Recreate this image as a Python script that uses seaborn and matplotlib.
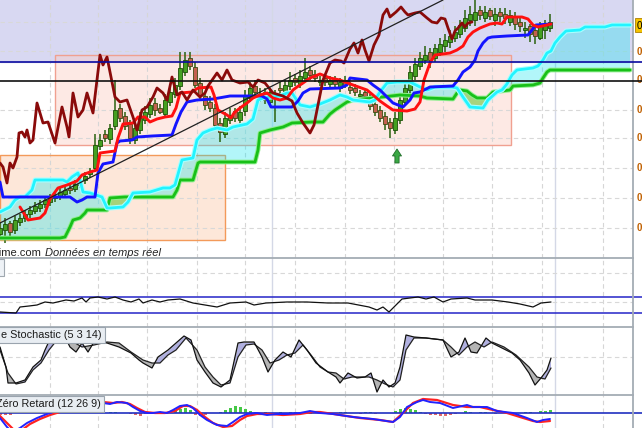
import numpy as np
import matplotlib
matplotlib.use("Agg")
import matplotlib.pyplot as plt
from matplotlib.patches import Rectangle, Polygon
import seaborn as sns

sns.set_theme(style="white")
plt.rcParams['font.family'] = ['Liberation Sans', 'DejaVu Sans']

# ---------------- price panel data (bar index, price in chart units) ----------------
open_ = [24, 28, 35, 28, 36, 40, 44, 47, 50, 54,
         56, 60, 61, 64, 70, 69, 73, 78, 84, 90,
         112, 124, 119, 132, 150, 142, 134, 118, 128, 138,
         144, 155, 150, 144, 156, 164, 172, 186, 200, 191,
         175, 162, 156, 150, 135, 124, 138, 147, 138, 147,
         160, 172, 162, 166, 156, 161, 170, 166, 172, 180,
         174, 180, 188, 184, 176, 180, 174, 178, 170, 178,
         171, 170, 162, 166, 160, 154, 148, 142, 136, 128,
         138, 156, 168, 182, 192, 198, 206, 200, 206, 212,
         216, 220, 224, 230, 238, 238, 248, 240, 248, 238,
         246, 244, 236, 242, 236, 228, 232, 228, 220, 228, 230]
close = [30, 34, 26, 38, 40, 44, 48, 52, 54, 58,
         60, 62, 66, 68, 68, 74, 78, 82, 86, 113,
         118, 120, 130, 148, 140, 132, 120, 130, 140, 146,
         153, 148, 146, 158, 166, 173, 190, 198, 192, 173,
         163, 153, 150, 133, 126, 140, 143, 140, 146, 163,
         170, 166, 164, 158, 166, 165, 168, 173, 178, 176,
         182, 186, 183, 180, 178, 176, 178, 174, 176, 173,
         168, 166, 164, 162, 152, 146, 140, 134, 130, 140,
         158, 170, 186, 194, 200, 203, 198, 210, 214, 218,
         222, 226, 233, 240, 244, 246, 243, 246, 242, 244,
         242, 240, 243, 234, 232, 230, 224, 222, 232, 234, 236]
high = [36, 40, 37, 42, 44, 48, 52, 56, 58, 62,
        64, 66, 70, 72, 74, 78, 82, 86, 90, 124,
        124, 128, 134, 178, 154, 146, 138, 136, 146, 152,
        160, 160, 154, 164, 172, 180, 206, 206, 206, 196,
        180, 166, 162, 154, 140, 146, 150, 150, 152, 168,
        176, 178, 170, 170, 170, 168, 176, 178, 186, 184,
        188, 200, 192, 188, 182, 184, 182, 182, 180, 182,
        176, 174, 168, 170, 164, 158, 152, 146, 140, 146,
        164, 176, 192, 200, 206, 212, 210, 214, 220, 224,
        228, 232, 238, 248, 252, 258, 252, 252, 250, 250,
        250, 250, 248, 246, 240, 236, 234, 232, 236, 238, 244]
low = [20, 15, 22, 24, 32, 36, 40, 44, 46, 50,
       52, 56, 58, 60, 64, 66, 70, 74, 80, 86,
       108, 116, 114, 128, 136, 128, 114, 114, 124, 134,
       140, 142, 144, 140, 152, 160, 168, 182, 188, 170,
       158, 148, 146, 128, 116, 120, 134, 136, 134, 142,
       156, 160, 156, 154, 152, 136, 164, 162, 168, 172,
       170, 176, 178, 176, 172, 172, 170, 170, 166, 170,
       164, 162, 158, 156, 148, 142, 136, 128, 120, 124,
       134, 152, 164, 178, 188, 194, 190, 196, 202, 206,
       210, 216, 220, 226, 232, 232, 238, 236, 238, 232,
       236, 234, 232, 228, 226, 220, 216, 214, 218, 219, 226]

tenkan_x = [4.0, 5.6, 8.0, 9.0, 10.0, 11.6, 13.4, 15.4, 16.4, 18.0, 19.4, 20.0, 23.0, 23.6,
            24.6, 26.6, 27.6, 29.0, 30.0, 31.4, 33.0, 34.4, 35.2, 36.0, 38.4, 39.6, 42.2,
            42.8, 43.6, 45.4, 46.2, 46.8, 48.0, 49.4, 50.6, 52.0, 53.4, 54.6, 56.0, 57.4,
            58.6, 59.4, 60.6, 62.0, 64.0, 66.0, 68.0, 70.6, 73.4, 74.6, 76.0, 77.4, 78.6,
            81.4, 83.0, 84.0, 84.8, 86.0, 87.0, 90.0, 91.4, 92.6, 93.6, 94.6, 96.0, 98.0,
            99.4, 100.4, 101.4, 104.4, 105.6, 106.6, 107.6, 109.4, 110.2]
tenkan_y = [51, 38, 40, 45, 59, 70, 73, 77, 83, 86, 88, 105, 107, 120,
            134, 135, 141, 141, 136, 139, 141, 142, 150, 165, 166, 170, 171,
            163, 148, 143, 140, 145, 150, 155, 160, 163, 165, 160, 158, 160,
            168, 171, 175, 180, 184, 180, 178, 173, 168, 163, 157, 152, 148,
            147, 149, 156, 178, 195, 203, 205, 208, 212, 221, 226, 230, 234,
            235, 234, 241, 241, 239, 233, 231, 233, 234]

kijun_x = [0.0, 0.6, 14.0, 15.4, 16.4, 17.4, 19.0, 19.6, 20.6, 22.6, 23.4, 24.0, 26.4,
           27.4, 30.4, 34.4, 35.2, 36.2, 37.4, 39.4, 42.6, 46.0, 52.4, 53.4, 54.2, 58.4,
           59.6, 60.6, 62.0, 68.0, 69.4, 70.0, 73.4, 74.6, 76.0, 77.4, 78.6, 80.6, 82.0,
           82.8, 84.0, 86.0, 90.6, 91.6, 92.6, 94.0, 95.0, 95.6, 96.6, 97.6, 98.4, 101.4,
           105.6, 106.4, 107.2, 110.2]
kijun_y = [76, 61, 61, 56, 58, 61, 61, 85, 94, 96, 115, 117, 118,
           121, 122, 123, 134, 146, 156, 158, 159, 162, 162, 159, 151, 151,
           157, 165, 169, 170, 173, 180, 178, 173, 168, 161, 155, 151, 158,
           165, 166, 171, 172, 178, 186, 191, 198, 207, 215, 220, 221, 222,
           223, 228, 233, 234]

chikou_x = [0.0, 0.6, 1.4, 2.0, 2.6, 3.4, 3.8, 4.4, 5.0, 5.4, 6.0, 6.6, 7.4, 8.0, 8.6,
            9.6, 11.0, 12.4, 13.4, 13.8, 14.6, 15.6, 16.6, 17.4, 18.6, 20.0, 20.6, 21.4,
            23.0, 24.0, 25.4, 26.6, 27.4, 28.4, 29.4, 30.6, 31.4, 32.6, 33.4, 34.4, 35.4,
            36.4, 37.4, 38.6, 40.0, 41.0, 41.6, 43.4, 44.4, 45.4, 46.4, 48.0, 49.6, 50.6,
            51.6, 53.0, 54.6, 56.6, 58.4, 59.4, 60.6, 62.0, 62.8, 63.4, 64.0, 64.6, 66.0,
            67.0, 68.2, 68.8, 70.0, 70.8, 71.6, 72.4, 73.0, 73.8, 74.8, 75.8, 76.6, 77.4,
            78.0, 79.2, 80.2, 81.0, 81.6, 83.0, 84.0, 85.4, 86.4, 87.4, 88.2, 89.0, 89.6,
            90.4, 91.0, 91.6, 92.4, 93.0, 93.6, 94.4]
chikou_y = [95, 91, 75, 95, 90, 101, 125, 126, 121, 128, 115, 118, 155, 145, 135,
            136, 115, 151, 131, 121, 165, 141, 148, 165, 145, 203, 193, 201,
            161, 156, 158, 141, 128, 148, 151, 161, 170, 165, 158, 181, 163,
            166, 158, 168, 161, 165, 172, 185, 178, 188, 178, 175, 176, 171,
            178, 175, 165, 162, 157, 145, 135, 125, 133, 148, 163, 178, 195,
            198, 197, 195, 209, 215, 205, 218, 208, 197, 213, 223, 243, 249,
            241, 246, 251, 246, 243, 245, 246, 240, 236, 235, 240, 239, 230,
            219, 227, 230, 235, 231, 235, 236]

span_a_x = [0.0, 2.0, 3.0, 4.0, 5.0, 6.4, 7.0, 12.6, 13.4, 14.4, 15.6, 16.0, 16.6, 18.0,
            20.4, 21.4, 22.0, 24.6, 25.6, 26.6, 30.0, 32.6, 34.0, 35.0, 36.4, 38.6, 39.4,
            40.6, 42.0, 43.4, 45.4, 46.6, 49.4, 50.6, 51.6, 52.6, 56.0, 57.4, 58.4, 59.2,
            60.0, 62.0, 64.0, 66.0, 68.0, 69.4, 70.6, 74.0, 75.0, 76.0, 77.4, 79.4, 82.0,
            84.0, 85.4, 87.0, 90.4, 91.4, 92.6, 94.0, 96.6, 97.6, 99.4, 100.4, 101.4, 102.4,
            103.4, 106.6, 107.6, 108.6, 109.4, 110.2, 111.0, 112.0, 113.2, 116.0, 117.0,
            121.0, 122.4, 126.0]
span_a_y = [46, 51, 58, 61, 61, 68, 78, 78, 76, 81, 85, 78, 66, 65,
            61, 50, 50, 51, 56, 65, 66, 70, 70, 73, 98, 100, 118,
            125, 128, 130, 128, 131, 134, 139, 158, 160, 162, 165, 165, 159,
            153, 151, 154, 158, 163, 161, 158, 156, 158, 166, 175, 176, 176,
            171, 168, 171, 171, 170, 161, 151, 150, 158, 166, 168, 174, 183,
            188, 190, 192, 198, 205, 207, 215, 221, 227, 228, 231,
            231, 233, 233]

span_b_x = [0.0, 12.0, 13.0, 14.0, 14.6, 16.0, 17.0, 17.4, 21.4, 22.0, 25.0, 34.6, 35.4,
            36.0, 38.6, 39.6, 40.0, 51.0, 51.6, 52.0, 54.0, 56.6, 58.4, 62.4, 64.6, 66.0,
            67.0, 69.4, 70.6, 74.6, 80.0, 84.0, 85.4, 90.6, 91.4, 92.0, 93.4, 94.4, 95.4,
            97.4, 98.0, 98.6, 102.0, 102.6, 106.6, 108.0, 108.6, 109.4, 110.0, 126.0]
span_b_y = [20, 20, 21, 31, 38, 40, 45, 48, 48, 60, 61, 61, 68,
            78, 78, 95, 96, 96, 108, 125, 128, 131, 135, 136, 136, 144,
            148, 156, 158, 160, 163, 162, 160, 159, 165, 168, 167, 163, 160,
            160, 163, 166, 168, 172, 173, 175, 180, 186, 188, 188]

trend_x = [0.0, 88.6]
trend_y = [35, 258]
resistance = 196          # blue level, top of the shaded zone
support = 177             # black level
zone_x0 = [11.0, 0.0]     # consolidation boxes
zone_x1 = [102.2, 45.0]
zone_lo = [113, 18]
zone_hi = [203, 103]
signal_day = [79.4]
signal_level = [95]
last_price = 233
last_label = "0,65"
price_labels = ["0,64", "0,62", "0,60", "0,58", "0,56", "0,54", "0,52"]
price_levels = [207, 178, 148, 120, 90, 60, 30]
grid_levels = [236, 207, 148, 120, 90, 60, 30]

# ---------------- indicator panels ----------------
osc_x = [0.0, 3.2, 4.0, 5.8, 7.4, 9.0, 10.6, 13.2, 14.8, 16.4, 17.2, 18.0, 19.6, 21.4,
         23.0, 24.6, 26.2, 27.8, 28.6, 30.4, 32.0, 33.6, 36.0, 38.6, 41.0, 43.4, 46.0,
         49.2, 50.8, 53.2, 57.4, 61.4, 65.6, 69.6, 73.8, 75.4, 76.6, 77.8, 78.6, 80.4,
         83.6, 85.2, 86.8, 88.6, 90.2, 93.4, 95.0, 98.4, 101.6, 104.0, 106.6, 108.2, 110.2]
osc_y = [15, 14, 20, 21, 22, 25, 24, 27, 26, 29, 25, 29, 30, 28,
         30, 27, 25, 28, 24, 27, 25, 27, 28, 24, 22, 20, 24,
         25, 22, 24, 25, 25, 24, 24, 20, 17, 20, 15, 19, 28,
         30, 28, 30, 25, 28, 29, 27, 27, 25, 23, 20, 24, 25]
osc_upper = 30
osc_lower = 14

stoch_k_x = [0.0, 1.2, 1.6, 3.2, 5.0, 6.6, 8.2, 9.0, 10.2, 11.4, 12.8, 14.0, 15.2, 16.4,
             17.6, 18.8, 21.4, 23.8, 26.2, 27.8, 28.6, 30.4, 31.6, 33.6, 35.2, 36.8, 38.2,
             39.4, 41.0, 42.6, 44.2, 46.0, 47.6, 48.8, 50.8, 52.4, 53.6, 55.0, 56.6, 58.2,
             59.8, 61.4, 63.2, 65.6, 67.2, 68.0, 69.6, 71.4, 73.0, 74.2, 75.4, 76.6, 77.8,
             79.0, 80.0, 81.2, 82.8, 85.2, 88.6, 90.2, 91.8, 93.0, 94.2, 95.4, 97.2, 98.4,
             100.0, 102.4, 104.0, 105.8, 107.0, 108.2, 109.4, 110.2]
stoch_k_y = [48, 28, 12, 12, 15, 28, 35, 45, 58, 65, 60, 48, 43, 52,
             43, 53, 52, 48, 42, 35, 32, 27, 38, 45, 52, 59, 55,
             35, 23, 12, 8, 15, 52, 53, 53, 38, 23, 35, 43, 38,
             55, 45, 32, 23, 18, 12, 22, 17, 18, 22, 3, 15, 8,
             12, 28, 60, 58, 57, 55, 38, 43, 57, 43, 42, 57, 52,
             48, 42, 35, 22, 10, 17, 25, 37]
stoch_d_x = [0.0, 1.6, 3.2, 5.0, 6.6, 8.2, 9.8, 11.4, 14.0, 16.4, 18.8, 21.4, 23.8, 26.2,
             28.6, 30.4, 32.0, 33.6, 35.2, 37.2, 39.4, 41.0, 42.6, 44.2, 46.0, 47.6, 49.2,
             50.8, 52.4, 54.0, 55.8, 57.4, 59.0, 60.6, 62.2, 64.0, 65.6, 67.2, 68.8, 70.4,
             72.2, 73.8, 75.4, 77.0, 78.6, 80.0, 81.2, 82.8, 85.2, 88.6, 90.2, 91.8, 93.4,
             95.0, 96.8, 98.4, 100.8, 103.2, 105.8, 107.4, 109.0, 110.2]
stoch_d_y = [45, 22, 11, 13, 25, 32, 45, 55, 55, 48, 50, 53, 52, 43,
             35, 32, 32, 40, 45, 57, 45, 28, 18, 10, 12, 38, 50,
             51, 45, 32, 35, 40, 42, 50, 40, 28, 23, 22, 16, 18,
             18, 18, 15, 11, 8, 15, 45, 57, 57, 55, 48, 40, 48,
             53, 48, 53, 48, 40, 28, 18, 16, 27]

macd_x = [0.0, 1.4, 2.4, 4.0, 5.4, 7.4, 9.4, 12.0, 16.0, 20.6, 22.0, 23.4, 25.4, 26.6,
          28.0, 29.4, 30.6, 32.0, 33.4, 34.6, 36.0, 37.4, 38.6, 40.0, 41.4, 43.4, 45.4,
          46.6, 48.0, 49.4, 51.4, 53.4, 55.4, 57.4, 60.0, 62.0, 64.0, 66.6, 70.6, 74.6,
          78.6, 80.0, 81.4, 83.4, 84.6, 86.0, 88.0, 90.6, 93.4, 94.6, 97.4, 99.4, 102.6,
          105.4, 107.4, 108.6, 110.0]
macd_y = [-5, -14, -19, -15, -10, -5, -1, 3, 8, 10, 9, 11, 10, 6,
          2, 0, 0, 1, 0, 3, 7, 8, 5, -2, -7, -12, -13,
          -9, -4, -1, 0, -2, -1, -1, 0, 2, 0, -1, -4, -6,
          -9, -4, 6, 11, 13, 11, 10, 5, 8, 6, 6, 2, 0,
          -5, -9, -7, -6]
signal_x = [0.0, 1.6, 2.8, 4.4, 6.0, 8.0, 10.0, 16.0, 20.6, 22.6, 24.4, 26.0, 27.4, 29.0,
            31.0, 33.0, 35.0, 36.6, 38.0, 39.4, 41.0, 42.6, 44.6, 46.4, 48.0, 49.4, 51.4,
            54.0, 56.6, 60.0, 62.4, 64.0, 68.0, 72.0, 76.0, 78.6, 80.6, 82.6, 84.6, 87.4,
            90.6, 93.4, 96.0, 98.6, 101.4, 104.0, 106.6, 108.0, 110.0]
signal_y = [-3, -11, -17, -17, -11, -6, -2, 7, 11, 10, 11, 9, 5, 1,
            0, 0, 2, 7, 7, 3, -4, -10, -14, -13, -7, -3, -1,
            -1, -2, -1, 1, 1, -2, -5, -7, -9, 0, 10, 14, 13,
            8, 6, 6, 3, 0, -4, -8, -9, -8]
hist = [-2, -2, -2, 0, 0, 0, 0, 0, 0, 0,
        0, 0, 0, 0, 0, 0, 0, 0, 0, 0,
        1, 0, 1, 1, 0, 0, -1, -2, -3, -1,
        1, 1, 1, 0, 2, 3, 4, 5, 3, -2,
        -3, -2, 0, 0, 1, 3, 5, 7, 6, 4,
        2, 1, -1, 1, 0, -1, 1, 0, 1, 1,
        1, 0, -1, 1, 0, -1, 0, 0, 1, 1,
        0, 0, -1, 1, 1, -1, 0, 0, 0, 2,
        4, 5, 4, 3, 1, -1, -2, -2, -3, -3,
        -2, -1, 0, 2, 1, 0, 1, 1, 0, -1,
        0, 0, -1, -1, 0, 1, 1, 0, 2, 2, 3]

grid_days = [10.0, 19.6, 29.4, 39.4, 49.0, 59.0, 69.0, 78.8, 88.6, 98.4, 108.4, 120.6]
period_days = [54.4, 111.0]

# ---------------- layout (pixel based panel geometry) ----------------
W, H = 642, 428
fig = plt.figure(figsize=(W / 100, H / 100), dpi=100)
fig.patch.set_facecolor("white")


def panel(top, bottom):
    a = fig.add_axes([0, 1 - bottom / H, 633 / W, (bottom - top) / H])
    a.set_xlim(0, 126.6)
    a.set_facecolor("white")
    for s in ["left", "bottom"]:
        a.spines[s].set_visible(False)
    for s in ["right", "top"]:
        a.spines[s].set_color("#a4acb4")
        a.spines[s].set_linewidth(1.3)
    a.set_xticks([])
    a.set_yticks([])
    for g in grid_days:
        a.axvline(g, color="#d6d6d6", lw=0.8, ls=(0, (4, 3)), zorder=0.5)
    for g in period_days:
        a.axvline(g, color="#d4d8e6", lw=1.0, zorder=0.5)
    return a


ax = panel(0, 258)
ax.spines["top"].set_visible(False)
ax.set_ylim(0, 258)
ax2 = panel(258, 327)
ax2.set_ylim(0, 69)
ax3 = panel(327, 395)
ax3.set_ylim(0, 68)
ax4 = panel(395, 428)
ax4.set_ylim(-15, 18)

# ---------------- main price panel ----------------
ax.axhspan(resistance, 258, color="#d8d8f2", zorder=0.2)
for lv in grid_levels:
    ax.axhline(lv, color="#d8d8d8", lw=0.8, ls=(0, (4, 3)), zorder=0.5)
zone_fc = ["#fbcbc0", "#fbc7a6"]
zone_ec = ["#f0a090", "#f39a5a"]
for k in range(len(zone_x0)):
    ax.add_patch(Rectangle((zone_x0[k], zone_lo[k]), zone_x1[k] - zone_x0[k],
                           zone_hi[k] - zone_lo[k], fc=zone_fc[k], alpha=0.42,
                           ec="none", zorder=0.3))
    ax.add_patch(Rectangle((zone_x0[k], zone_lo[k]), zone_x1[k] - zone_x0[k],
                           zone_hi[k] - zone_lo[k], fc="none", ec=zone_ec[k],
                           lw=1.0, zorder=0.6))

# Ichimoku cloud: colour depends on which span is on top
cloud_xy = np.column_stack([np.r_[span_a_x, span_b_x[::-1]], np.r_[span_a_y, span_b_y[::-1]]])
cloud = Polygon(cloud_xy, closed=True, fc="none", ec="none")
ax.add_patch(cloud)
bull = ax.fill_between(span_a_x, 0, span_a_y, color="#00e4ee", alpha=0.3, lw=0, zorder=1)
bull.set_clip_path(cloud)
bear = ax.fill_between(span_a_x, span_a_y, 300, color="#78c848", alpha=0.65, lw=0, zorder=1)
bear.set_clip_path(cloud)

# candles
days = np.arange(len(close))
o = np.array(open_)
c = np.array(close)
up = c >= o
ax.vlines(days, low, high, color="#2a620e", lw=1.1, zorder=2)
body_lo = np.minimum(o, c)
body_h = np.maximum(np.abs(c - o), 1.5)
ax.bar(days[up], body_h[up], bottom=body_lo[up], width=0.8, color="#45a021",
       edgecolor="#1c4f08", lw=0.6, zorder=2.5)
ax.bar(days[~up], body_h[~up], bottom=body_lo[~up], width=0.8, color="#c4604e",
       edgecolor="#3e4a10", lw=0.6, zorder=2.5)

# lines
sns.lineplot(x=span_b_x, y=span_b_y, ax=ax, color="#90ee90", lw=3.4, sort=False, zorder=3)
sns.lineplot(x=span_b_x, y=span_b_y, ax=ax, color="#18c018", lw=2.0, sort=False, zorder=3)
sns.lineplot(x=span_a_x, y=span_a_y, ax=ax, color="#a8ffff", lw=3.6, sort=False, zorder=3)
sns.lineplot(x=span_a_x, y=span_a_y, ax=ax, color="#22f4ff", lw=2.0, sort=False, zorder=3)
sns.lineplot(x=kijun_x, y=kijun_y, ax=ax, color="#1414ff", lw=2.1, sort=False, zorder=4)
sns.lineplot(x=tenkan_x, y=tenkan_y, ax=ax, color="#ff1010", lw=2.1, sort=False, zorder=4)
sns.lineplot(x=chikou_x, y=chikou_y, ax=ax, color="#8a0a0a", lw=2.0, sort=False, zorder=4.5)
sns.lineplot(x=trend_x, y=trend_y, ax=ax, color="#202020", lw=0.9, sort=False, zorder=4.6)
ax.axhline(resistance, xmax=1.015, color="#0a0aa0", lw=1.2, zorder=4.7, clip_on=False)
ax.axhline(support, xmax=1.015, color="#111111", lw=1.2, zorder=4.7, clip_on=False)

ax.annotate("", xy=(signal_day[0], signal_level[0] + 14), xytext=(signal_day[0], signal_level[0]),
            arrowprops=dict(arrowstyle="simple,head_length=0.5,head_width=0.65,tail_width=0.3",
                            fc="#3aa845", ec="#1f6d28", lw=0.6, shrinkA=0, shrinkB=0,
                            mutation_scale=10), zorder=5)

for lv, lab in zip(price_levels, price_labels):
    ax.text(1.006, lv, lab, transform=ax.get_yaxis_transform(), fontsize=7, color="#c06000",
            va="center", ha="left", clip_on=False, fontweight="bold")
ax.text(1.006, last_price, last_label, transform=ax.get_yaxis_transform(), fontsize=7,
        color="black", va="center", ha="left", clip_on=False,
        bbox=dict(boxstyle="square,pad=0.2", fc="#f5c400", ec="#b08000", lw=0.6))

fig.text(41 / W, 1 - 253 / H, "ProRealTime.com", fontsize=8, ha="right", va="center", color="#222222")
fig.text(45 / W, 1 - 253 / H, "Données en temps réel", fontsize=8, style="italic",
         ha="left", va="center", color="#222222")

# ---------------- oscillator panel ----------------
for lv in [54, 25]:
    ax2.axhline(lv, color="#d8d8d8", lw=0.8, ls=(0, (4, 3)), zorder=0.5)
sns.lineplot(x=osc_x, y=osc_y, ax=ax2, color="#111111", lw=0.9, sort=False, zorder=3)
ax2.axhline(osc_upper, xmax=1.015, color="#2424c8", lw=1.1, clip_on=False, zorder=2)
ax2.axhline(osc_lower, xmax=1.015, color="#2424c8", lw=1.1, clip_on=False, zorder=2)
fig.add_artist(Rectangle((-10 / W, 1 - 276 / H), 14 / W, 17 / H, transform=fig.transFigure,
                         fc="#eef2f6", ec="#a0a8b0", lw=0.8))

# ---------------- stochastic panel ----------------
ax3.axhline(38, color="#d8d8d8", lw=0.8, ls=(0, (4, 3)), zorder=0.5)
stoch_xy = np.column_stack([np.r_[stoch_k_x, stoch_d_x[::-1]], np.r_[stoch_k_y, stoch_d_y[::-1]]])
band = Polygon(stoch_xy, closed=True, fc="none", ec="none")
ax3.add_patch(band)
rise = ax3.fill_between(stoch_k_x, -10, stoch_k_y, color="#b0b0e0", lw=0, zorder=1)
rise.set_clip_path(band)
fall = ax3.fill_between(stoch_k_x, stoch_k_y, 100, color="#b4b4b4", lw=0, zorder=1)
fall.set_clip_path(band)
sns.lineplot(x=stoch_d_x, y=stoch_d_y, ax=ax3, color="#222222", lw=0.9, sort=False, zorder=2)
sns.lineplot(x=stoch_k_x, y=stoch_k_y, ax=ax3, color="#111111", lw=0.9, sort=False, zorder=2)
fig.text(1 / W, 1 - 335 / H, "e Stochastic (5 3 14)", fontsize=7.8, ha="left", va="center",
         color="#1a1a1a", bbox=dict(boxstyle="square,pad=0.3", fc="#e8edf2", ec="#9aa4ae", lw=0.8))

# ---------------- MACD panel ----------------
ax4.axhline(0, xmax=1.015, color="#2030c0", lw=1.2, clip_on=False, zorder=2)
hv = np.array(hist)
hcol = np.where(hv >= 0, "#46c846", "#e06a6a")
ax4.bar(days, hv, width=0.6, color=hcol, lw=0, zorder=1.5)
sns.lineplot(x=signal_x, y=signal_y, ax=ax4, color="#ff2222", lw=1.6, sort=False, zorder=3)
sns.lineplot(x=macd_x, y=macd_y, ax=ax4, color="#2222ff", lw=1.4, sort=False, zorder=3)
fig.text(-4 / W, 1 - 404 / H, "Zéro Retard (12 26 9)", fontsize=7.8, ha="left", va="center",
         color="#1a1a1a", bbox=dict(boxstyle="square,pad=0.3", fc="#e8edf2", ec="#9aa4ae", lw=0.8))

for a in [ax, ax2, ax3, ax4]:
    leg = a.get_legend()
    if leg is not None:
        leg.remove()
    a.set_xlabel("")
    a.set_ylabel("")

fig.savefig("out.png", dpi=100)
